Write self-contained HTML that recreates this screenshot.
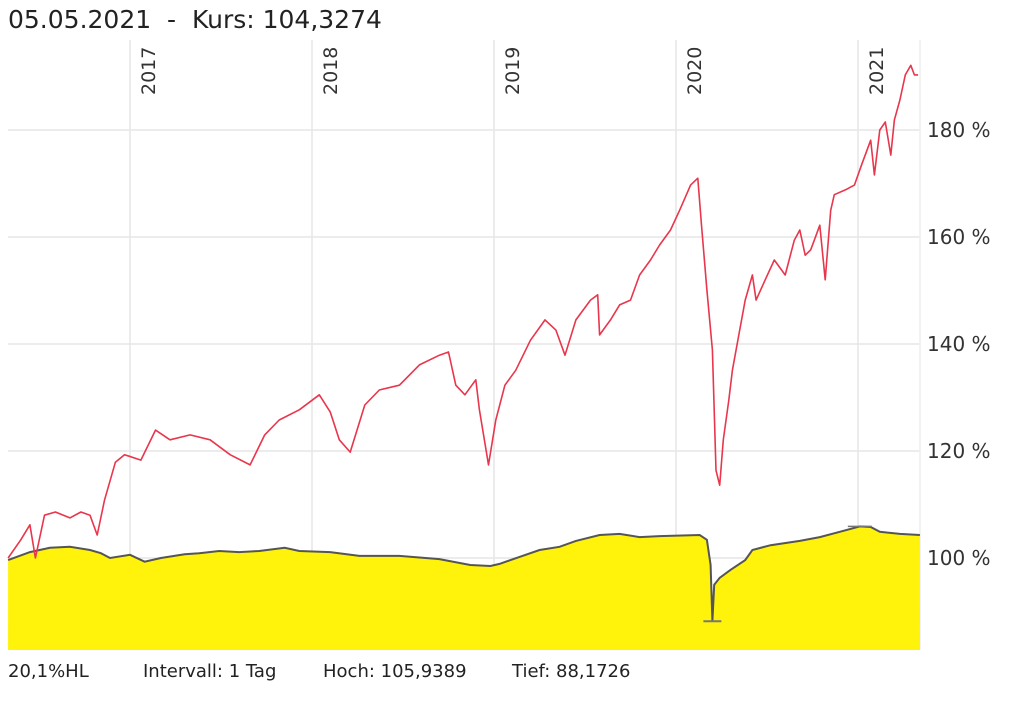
<!DOCTYPE html>
<html><head><meta charset="utf-8"><style>
body{margin:0;background:#fff;width:1013px;height:696px;overflow:hidden;font-family:"Liberation Sans","DejaVu Sans",sans-serif}
svg text{font-family:"DejaVu Sans","Liberation Sans",sans-serif;white-space:pre}
</style></head><body>
<svg id="chart" width="1013" height="696" viewBox="0 0 1013 696">
<text x="8" y="28" font-size="25" fill="#222" xml:space="preserve">05.05.2021  -  Kurs: 104,3274</text>
<g id="grid"></g><g id="area"></g><g id="lines"></g><g id="labels"></g>
<text x="8" y="677" font-size="18" fill="#222">20,1%HL</text>
<text x="143" y="677" font-size="18" fill="#222">Intervall: 1 Tag</text>
<text x="323" y="677" font-size="18" fill="#222">Hoch: 105,9389</text>
<text x="512" y="677" font-size="18" fill="#222">Tief: 88,1726</text>
</svg>
<script>
const yTicks=[100,120,140,160,180];
const yTickLabels=["100 %","120 %","140 %","160 %","180 %"];
const years=[2017,2018,2019,2020,2021];
const redT=[2016.33,2016.40,2016.45,2016.48,2016.53,2016.59,2016.67,2016.73,2016.78,2016.82,2016.86,2016.92,2016.97,2017.06,2017.14,2017.22,2017.33,2017.44,2017.55,2017.66,2017.74,2017.82,2017.93,2018.04,2018.10,2018.15,2018.21,2018.29,2018.37,2018.48,2018.59,2018.70,2018.75,2018.79,2018.84,2018.90,2018.92,2018.97,2019.01,2019.06,2019.12,2019.20,2019.28,2019.34,2019.39,2019.45,2019.53,2019.57,2019.58,2019.64,2019.69,2019.75,2019.80,2019.86,2019.91,2019.97,2020.02,2020.08,2020.12,2020.14,2020.17,2020.20,2020.22,2020.24,2020.26,2020.29,2020.31,2020.35,2020.38,2020.42,2020.44,2020.49,2020.54,2020.60,2020.65,2020.68,2020.71,2020.74,2020.76,2020.79,2020.82,2020.85,2020.87,2020.93,2020.98,2021.02,2021.07,2021.09,2021.12,2021.15,2021.18,2021.20,2021.23,2021.26,2021.29,2021.31,2021.33];
const redV=[100,103.4,106.2,100,108.0,108.6,107.5,108.6,108.0,104.3,110.8,117.9,119.3,118.3,123.9,122.1,123.0,122.1,119.3,117.4,123.0,125.8,127.7,130.5,127.3,122.1,119.8,128.6,131.4,132.3,136.1,137.9,138.5,132.3,130.5,133.3,127.7,117.4,125.8,132.3,135.1,140.7,144.5,142.6,137.9,144.5,148.2,149.2,141.7,144.5,147.3,148.2,152.9,155.7,158.5,161.3,165.0,169.7,171.0,162.2,150.1,138.9,116.4,113.6,122.1,129.5,135.1,142.6,148.2,152.9,148.2,152.0,155.7,152.9,159.4,161.3,156.6,157.6,159.4,162.2,152.0,165.0,167.9,168.8,169.7,173.5,178.1,171.6,180,181.5,175.3,181.9,185.6,190.3,192.1,190.3,190.3];
const greyT=[2016.33,2016.45,2016.56,2016.67,2016.78,2016.84,2016.89,2017.0,2017.08,2017.17,2017.30,2017.38,2017.49,2017.60,2017.71,2017.85,2017.93,2018.10,2018.26,2018.48,2018.70,2018.87,2018.98,2019.03,2019.14,2019.25,2019.36,2019.45,2019.58,2019.69,2019.80,2019.91,2020.13,2020.17,2020.19,2020.20,2020.21,2020.24,2020.30,2020.38,2020.42,2020.52,2020.68,2020.79,2020.90,2021.01,2021.07,2021.12,2021.23,2021.34];
const greyV=[99.6,101.1,101.9,102.1,101.5,100.9,100,100.6,99.3,100,100.7,100.9,101.3,101.1,101.3,101.9,101.3,101.1,100.4,100.4,99.8,98.7,98.5,98.9,100.2,101.5,102.1,103.2,104.3,104.5,103.9,104.1,104.3,103.4,98.7,88.17,95.0,96.3,97.8,99.6,101.5,102.4,103.2,103.9,104.9,105.9,105.8,104.9,104.5,104.3];
const X0=8,X1=920,YB=650;
const xs=t=>130+(t-2017)*182;
const ys=v=>558-(v-100)*5.35;
const NS="http://www.w3.org/2000/svg";
function mk(p,tag,at){const e=document.createElementNS(NS,tag);for(const k in at)e.setAttribute(k,at[k]);document.getElementById(p).appendChild(e);return e;}
yTicks.forEach((v,i)=>{
 const l=mk('grid','line',{x1:X0,x2:X1,y1:ys(v),y2:ys(v),stroke:'#e6e6e6','stroke-width':1.5});
 
 
 const t=mk('labels','text',{x:927,y:ys(v)+7,'font-size':20,fill:'#333'});
 t.textContent=yTickLabels[i];
 
 
});
years.forEach(y=>{
 const x=xs(y);
 const l=mk('grid','line',{x1:x,x2:x,y1:40,y2:YB,stroke:'#e6e6e6','stroke-width':1.5});
 
 
 const t=mk('labels','text',{x:0,y:0,'font-size':19,fill:'#333',transform:`translate(${x+25},95) rotate(-90)`});
 t.textContent=y;
 
 
});
const rb=mk('grid','line',{x1:X1,x2:X1,y1:40,y2:YB,stroke:'#eeeeee','stroke-width':1.5});


let gp=greyT.map((t,i)=>`${xs(t).toFixed(1)},${ys(greyV[i]).toFixed(1)}`);
const area=mk('area','polygon',{points:`${xs(greyT[0])},${YB} ${gp.join(' ')} ${X1},${YB}`,fill:'#fff30b'});


const gl=mk('lines','polyline',{points:gp.join(' '),fill:'none',stroke:'#555','stroke-width':2});


const mi=greyV.indexOf(Math.min(...greyV));
const lm=mk('lines','line',{x1:xs(greyT[mi])-9,x2:xs(greyT[mi])+9,y1:ys(greyV[mi]),y2:ys(greyV[mi]),stroke:'#777','stroke-width':2});


const ma=greyV.indexOf(Math.max(...greyV));
const hm=mk('lines','line',{x1:xs(greyT[ma])-12,x2:xs(greyT[ma])+12,y1:ys(greyV[ma]),y2:ys(greyV[ma]),stroke:'#777','stroke-width':1.5});


const rl=mk('lines','polyline',{points:redT.map((t,i)=>`${xs(t).toFixed(1)},${ys(redV[i]).toFixed(1)}`).join(' '),fill:'none',stroke:'#e8364c','stroke-width':1.6,'stroke-linejoin':'round'});


</script>
</body></html>
